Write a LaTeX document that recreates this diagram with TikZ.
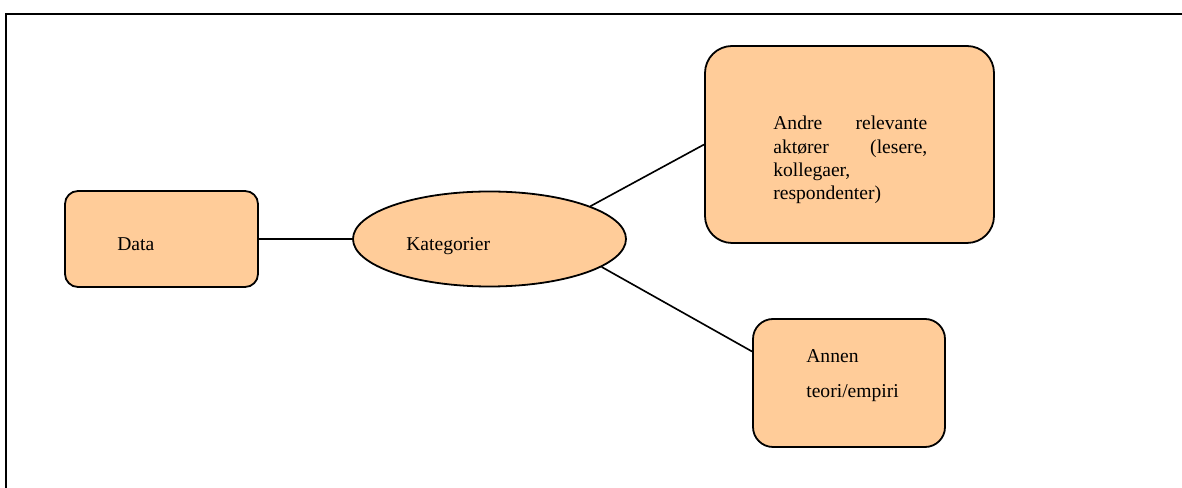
\documentclass[tikz,border=0pt]{standalone}
\usepackage{fontspec}
\setmainfont{Liberation Serif}
\usetikzlibrary{shapes.geometric}
\newlength\pu
\setlength\pu{0.6125pt}
\hyphenpenalty=10000
\exhyphenpenalty=10000
\tolerance=10000
\definecolor{peach}{HTML}{FFCC99}
\tikzset{
  box/.style={draw=black, line width=1.1pt, fill=peach, inner sep=0pt},
  txt/.style={inner sep=0pt, anchor=base west, font=\fontsize{12}{14.1}\selectfont},
  link/.style={draw=black, line width=1pt},
}
\begin{document}
\begin{tikzpicture}[x=\pu, y=-\pu]
  \useasboundingbox (0,0) rectangle (1182,488);
  \clip (0,0) rectangle (1182,488);
  % outer frame, running off the right and bottom edges
  \draw[line width=1.2pt] (6,14) rectangle (1200,510);

  % shapes
  \node[box, rounded corners=13\pu, minimum width=193\pu, minimum height=96\pu] (data) at (161.5,239) {};
  \node[box, ellipse, minimum width=273\pu, minimum height=95\pu] (kat) at (489.5,239) {};
  \node[box, rounded corners=27\pu, minimum width=289\pu, minimum height=197\pu] (big) at (849.5,144.5) {};
  \node[box, rounded corners=20\pu, minimum width=192\pu, minimum height=128\pu] (small) at (849,383) {};

  % labels
  \node[txt] (tdata) at (117,251) {Data};
  \node[txt] (tkat) at (406,251) {Kategorier};
  \node[txt, text width=154\pu, align=justify] (tbig) at (773,130)
    {Andre relevante aktører (lesere, kollegaer, respondenter)};
  \node[txt] (tannen) at (806,363) {Annen};
  \node[txt] (tteori) at (806,398) {teori/empiri};

  % connectors
  \draw[link] (data.east) -- (kat.west);
  \draw[link] (kat.18) -- (big.west);
  \draw[link] (kat.-14) -- (small.162);
\end{tikzpicture}
\end{document}
